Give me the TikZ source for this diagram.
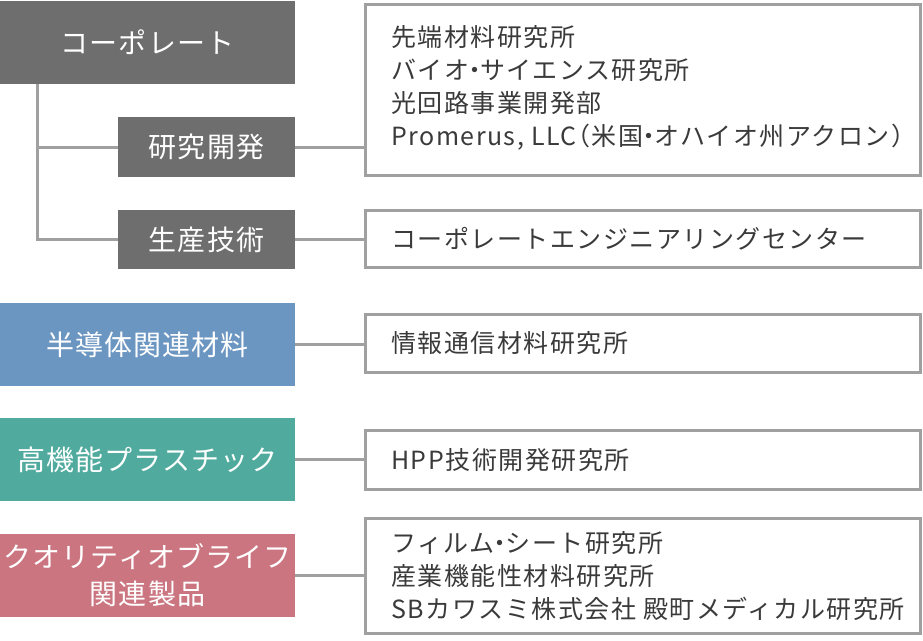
\documentclass[tikz,border=0pt]{standalone}
\usepackage{fontspec}
\setmainfont{Noto Sans CJK JP}
\newfontfamily\lblfont[LetterSpace=4]{Noto Sans CJK JP}
\newfontfamily\txtfont[LetterSpace=6]{Noto Sans CJK JP}
\definecolor{boxgray}{HTML}{6E6E6E}
\definecolor{boxblue}{HTML}{6C96C2}
\definecolor{boxteal}{HTML}{50AB9E}
\definecolor{boxpink}{HTML}{CB7580}
\definecolor{linegray}{HTML}{A0A0A0}
\definecolor{txtgray}{HTML}{3A3A3A}
\newcommand\mdot{\kern-.28em・\kern-.28em}
\newcommand\lpar{\kern-.45em（}
\newcommand\rpar{）\kern-.45em}
\tikzset{
  catbox/.style={rectangle, inner sep=0pt, outer sep=0pt, anchor=north west, text=white,
    font=\lblfont\fontsize{28}{37}\selectfont, align=center},
  unitbox/.style={rectangle, draw=linegray, line width=3pt, inner sep=0pt, outer sep=0pt,
    anchor=north west, minimum width=555pt},
  unittext/.style={anchor=west, inner sep=0pt, text=txtgray, align=left,
    font=\txtfont\fontsize{25}{33}\selectfont},
  conn/.style={draw=linegray, line width=3pt}
}
\begin{document}
\begin{tikzpicture}[x=1pt,y=-1pt]
\useasboundingbox (0,0) rectangle (923,640);
% category boxes
\node[catbox, fill=boxgray, minimum width=295pt, minimum height=83pt] (corp) at (0,1) {コーポレート};
\node[catbox, fill=boxgray, minimum width=177pt, minimum height=60pt] (rd) at (118,117) {研究開発};
\node[catbox, fill=boxgray, minimum width=177pt, minimum height=59pt] (pt) at (118,210) {生産技術};
\node[catbox, fill=boxblue, minimum width=295pt, minimum height=83pt] (semi) at (0,303) {半導体関連材料};
\node[catbox, fill=boxteal, minimum width=295pt, minimum height=83pt] (hpp) at (0,418) {高機能プラスチック};
\node[catbox, fill=boxpink, minimum width=295pt, minimum height=83pt] (qol) at (0,534) {クオリティオブライフ\\関連製品};
% unit boxes
\node[unitbox, minimum height=171pt] (u1) at (365.5,4.5) {};
\node[unitbox, minimum height=57pt] (u2) at (365.5,210.5) {};
\node[unitbox, minimum height=58pt] (u3) at (365.5,314.5) {};
\node[unitbox, minimum height=59pt] (u4) at (365.5,430.5) {};
\node[unitbox, minimum height=115pt] (u5) at (365.5,518.5) {};
% unit texts
\node[unittext] (t1) at ([xshift=25.5pt,yshift=2pt]u1.west) {先端材料研究所\\バイオ\mdot サイエンス研究所\\光回路事業開発部\\Promerus, LLC\lpar 米国\mdot オハイオ州アクロン\rpar};
\node[unittext] (t2) at ([xshift=25.5pt]u2.west) {コーポレートエンジニアリングセンター};
\node[unittext] (t3) at ([xshift=25.5pt]u3.west) {情報通信材料研究所};
\node[unittext] (t4) at ([xshift=25.5pt]u4.west) {HPP技術開発研究所};
\node[unittext] (t5) at ([xshift=25.5pt]u5.west) {フィルム\mdot シート研究所\\産業機能性材料研究所\\SBカワスミ株式会社 殿町メディカル研究所};
% connectors
\coordinate (trunk) at ([xshift=37pt]corp.south west);
\draw[conn] (trunk) |- (pt.west);
\draw[conn] (trunk |- rd.west) -- (rd.west);
\draw[conn] (rd.east) -- (u1.west |- rd.east);
\draw[conn] (pt.east) -- (u2.west |- pt.east);
\draw[conn] (semi.east) -- (u3.west |- semi.east);
\draw[conn] (hpp.east) -- (u4.west |- hpp.east);
\draw[conn] (qol.east) -- (u5.west |- qol.east);
\end{tikzpicture}
\end{document}
